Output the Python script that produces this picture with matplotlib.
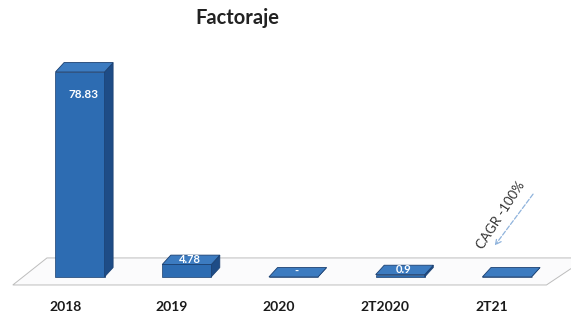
import matplotlib
matplotlib.use("Agg")
import matplotlib.pyplot as plt
from matplotlib.patches import Polygon

categories = ["2018", "2019", "2020", "2T2020", "2T21"]
values = [78.83, 4.78, 0.0, 0.9, 0.0]
value_labels = ["78.83", "4.78", "-", "0.9", ""]

plt.rcParams["font.family"] = ["Lato", "DejaVu Sans"]

fig = plt.figure(figsize=(5.71, 3.18), dpi=100)
ax = fig.add_axes([0, 0, 1, 1])
ax.set_xlim(-0.75, 4.60)
ax.set_ylim(-15.8, 106.5)
ax.axis("off")

w = 0.46      # bar width (category units)
dx = 0.08     # fake depth, x
dy = 3.6      # fake depth, value units

front_c = "#2d6cb2"
side_c = "#1e4c86"
top_c = "#3c7bc0"

# floor
floor = Polygon([(-0.63, -3.1), (4.37, -3.1), (4.75, 7.3), (-0.31, 7.3)],
                closed=True, facecolor="#fbfbfc", edgecolor="#bdbdbd", lw=0.7, zorder=1)
ax.add_patch(floor)

xs = list(range(len(categories)))
ax.bar(xs, values, width=w, color=front_c, edgecolor="#1a3f70", lw=0.5, zorder=3)
for x, v in zip(xs, values):
    top = [(x - w / 2, v), (x + w / 2, v), (x + w / 2 + dx, v + dy), (x - w / 2 + dx, v + dy)]
    side = [(x + w / 2, 0), (x + w / 2 + dx, dy), (x + w / 2 + dx, v + dy), (x + w / 2, v)]
    ax.add_patch(Polygon(side, closed=True, facecolor=side_c, edgecolor="#1a3f70", lw=0.5, zorder=3))
    ax.add_patch(Polygon(top, closed=True, facecolor=top_c, edgecolor="#1a3f70", lw=0.6, zorder=4))

# value labels
ax.text(0.03, 70, value_labels[0], color="white", fontsize=8.5, fontweight="bold",
        ha="center", va="center", zorder=6)
for i in range(1, len(values)):
    if value_labels[i]:
        ax.text(i + 0.03, values[i] + dy * 0.55, value_labels[i], color="white", fontsize=8,
                fontweight="bold", ha="center", va="center", zorder=6)

# category labels
for x, c in zip(xs, categories):
    ax.text(x - 0.14, -11.5, c, fontsize=10, fontweight="bold", color="#1a1a1a",
            ha="center", va="center")

# title
ax.text(1.47, 99.5, "Factoraje", fontsize=14.5, fontweight="bold", color="#222222",
        ha="center", va="center")

# CAGR annotation
ax.annotate("", xy=(3.87, 11.2), xytext=(4.26, 32.7),
            arrowprops=dict(arrowstyle="->", color="#8fb3dc", lw=0.9, linestyle="--"), zorder=5)
ax.text(3.94, 23.8, "CAGR -100%", rotation=57, fontsize=9.5, color="#333333",
        ha="center", va="center", zorder=5)

fig.savefig("out.png", dpi=100)
